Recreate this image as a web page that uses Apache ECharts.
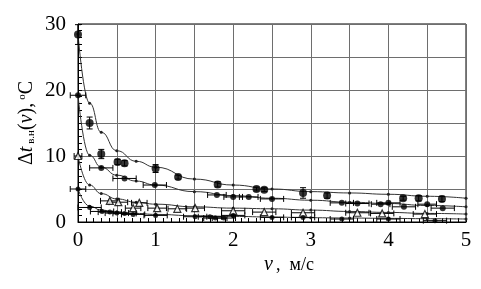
<!DOCTYPE html>
<html>
<head>
<meta charset="utf-8">
<script src="https://cdn.jsdelivr.net/npm/echarts@6/dist/echarts.min.js"></script>
<style>
html, body { margin: 0; padding: 0; background: #fff; }
#chart { width: 481px; height: 289px; }
</style>
</head>
<body>
<div id="chart"></div>
<script>
// fitted curves
var fitV = [0, 0.15, 0.3, 0.5, 0.75, 1, 1.5, 2, 2.5, 3, 3.5, 4, 4.5, 5];
var fit1 = [28.5, 18.0, 13.6, 10.8, 9.2, 8.3, 6.5, 5.6, 5.0, 4.6, 4.4, 4.2, 3.9, 3.6];
var fit2 = [19.2, 10.1, 8.3, 7.1, 6.2, 5.6, 4.6, 4.0, 3.6, 3.3, 3.0, 2.8, 2.5, 2.3];
var fit3 = [10.0, 5.6, 4.3, 3.5, 3.0, 2.7, 2.3, 2.1, 2.0, 1.8, 1.6, 1.45, 1.3, 1.2];
var fit4 = [5.0, 2.4, 1.8, 1.5, 1.3, 1.15, 0.95, 0.85, 0.75, 0.65, 0.6, 0.55, 0.5, 0.45];

// measured points (v, dt) and their error bars
var s1V  = [0, 0.15, 0.3, 0.51, 0.6, 1.0, 1.29, 1.8, 2.3, 2.4, 2.9, 3.21, 4.19, 4.39, 4.69];
var s1T  = [28.4, 15.0, 10.3, 9.1, 8.9, 8.1, 6.8, 5.7, 5.0, 4.9, 4.4, 4.0, 3.6, 3.6, 3.5];
var s1Ey = [1.5, 0.9, 0.7, 0.4, 0.4, 0.6, 0.3, 0.4, 0.3, 0.3, 0.8, 0.4, 0.3, 0.4, 0.4];

var s2V  = [0, 0.3, 0.6, 0.99, 1.79, 2.0, 2.2, 2.5, 3.4, 3.6, 3.9, 4.0, 4.2, 4.5, 4.7];
var s2T  = [19.2, 8.2, 6.6, 5.6, 4.1, 3.8, 3.8, 3.5, 2.9, 2.8, 2.7, 2.9, 2.3, 2.7, 2.1];
var s2Ex = [0.1, 0.15, 0.15, 0.15, 0.12, 0.12, 0.12, 0.15, 0.15, 0.15, 0.12, 0.15, 0.15, 0.12, 0.15];

var s3V  = [0, 0.41, 0.52, 0.71, 0.79, 1.02, 1.28, 1.51, 2.0, 2.4, 2.9, 3.6, 3.92, 4.47];
var s3T  = [10.0, 3.2, 3.0, 2.1, 2.9, 2.1, 2.0, 2.1, 1.7, 1.5, 1.4, 1.4, 1.3, 1.2];
var s3Ex = [0.05, 0.12, 0.12, 0.1, 0.1, 0.12, 0.12, 0.12, 0.15, 0.15, 0.15, 0.15, 0.15, 0.15];

var s4V  = [0, 0.15, 0.31, 0.41, 0.5, 0.6, 0.71, 1.0, 1.51, 1.7, 1.77, 1.88, 2.0, 2.5, 2.9, 3.4, 4.0, 4.6];
var s4T  = [5.0, 2.2, 1.6, 1.5, 1.35, 1.3, 1.15, 1.0, 0.8, 0.8, 0.6, 0.6, 1.0, 0.7, 0.7, 0.45, 0.45, 0.2];
var s4Ex = [0.1, 0.15, 0.15, 0.15, 0.15, 0.15, 0.15, 0.15, 0.15, 0.15, 0.15, 0.15, 0.15, 0.15, 0.15, 0.15, 0.15, 0.15];

var xTicks = [0, 1, 2, 3, 4, 5];
var yTicks = [0, 10, 20, 30];

function pairs(xs, ys) {
    return xs.map(function (x, i) { return [x, ys[i]]; });
}
function errData(xs, ys, ex, ey) {
    return xs.map(function (x, i) { return [x, ys[i], ex ? ex[i] : 0, ey ? ey[i] : 0]; });
}

// error bars drawn through the axis scales
function errRender(params, api) {
    var v = api.value(0), t = api.value(1), ex = api.value(2), ey = api.value(3);
    var kids = [];
    var cap = 3;
    var st = { stroke: '#000', lineWidth: 1 };
    if (ex > 0) {
        var a = api.coord([v - ex, t]), b = api.coord([v + ex, t]);
        kids.push({ type: 'line', shape: { x1: a[0], y1: a[1], x2: b[0], y2: b[1] }, style: st });
        kids.push({ type: 'line', shape: { x1: a[0], y1: a[1] - cap, x2: a[0], y2: a[1] + cap }, style: st });
        kids.push({ type: 'line', shape: { x1: b[0], y1: b[1] - cap, x2: b[0], y2: b[1] + cap }, style: st });
    }
    if (ey > 0) {
        var c = api.coord([v, t - ey]), d = api.coord([v, t + ey]);
        kids.push({ type: 'line', shape: { x1: c[0], y1: c[1], x2: d[0], y2: d[1] }, style: st });
        kids.push({ type: 'line', shape: { x1: c[0] - cap, y1: c[1], x2: c[0] + cap, y2: c[1] }, style: st });
        kids.push({ type: 'line', shape: { x1: d[0] - cap, y1: d[1], x2: d[0] + cap, y2: d[1] }, style: st });
    }
    return { type: 'group', children: kids };
}

function fitSeries(ys) {
    return {
        type: 'line', data: pairs(fitV, ys), smooth: true, smoothMonotone: 'x',
        symbol: 'circle', symbolSize: 3, z: 2,
        lineStyle: { color: '#333', width: 1 }, itemStyle: { color: '#222' }
    };
}
function errSeries(data) {
    return { type: 'custom', renderItem: errRender, data: data, encode: { x: 0, y: 1 }, z: 3, silent: true };
}

var FONT = 'Liberation Serif';
var chart = echarts.init(document.getElementById('chart'));
var option = {
    animation: false,
    textStyle: { fontFamily: FONT },
    grid: { left: 78, right: 15, top: 24, bottom: 67, show: true, borderColor: '#000', borderWidth: 1 },
    xAxis: {
        type: 'value', min: 0, max: 5, interval: 0.5,
        axisLine: { lineStyle: { color: '#000', width: 1 } },
        axisTick: { inside: true, length: 4, lineStyle: { color: '#000' } },
        minorTick: { show: true, splitNumber: 5, length: 4, lineStyle: { color: '#000' } },
        splitLine: { show: true, lineStyle: { color: '#6e6e6e', width: 1 } },
        axisLabel: {
            fontFamily: FONT, fontSize: 21, color: '#000', margin: 8,
            formatter: function (v) { return xTicks.indexOf(v) >= 0 ? String(v) : ''; }
        }
    },
    yAxis: {
        type: 'value', min: 0, max: 30, interval: 5,
        axisLine: { show: true, lineStyle: { color: '#000', width: 1 } },
        axisTick: { show: true, inside: true, length: 4, lineStyle: { color: '#000' } },
        minorTick: { show: true, splitNumber: 5, length: 4, lineStyle: { color: '#000' } },
        splitLine: { show: true, lineStyle: { color: '#6e6e6e', width: 1 } },
        axisLabel: {
            fontFamily: FONT, fontSize: 21, color: '#000', margin: 12,
            formatter: function (v) { return yTicks.indexOf(v) >= 0 ? String(v) : ''; }
        }
    },
    graphic: [
        {
            type: 'text', x: 289, y: 265,
            style: {
                text: '{i|v} {n|,  м/с}', fontFamily: FONT, textAlign: 'center', textVerticalAlign: 'middle',
                rich: {
                    i: { fontFamily: FONT, fontStyle: 'italic', fontSize: 20, fill: '#000' },
                    n: { fontFamily: FONT, fontSize: 18, fill: '#000' }
                }
            }
        },
        {
            type: 'text', x: 27, y: 123, rotation: Math.PI / 2,
            style: {
                text: '{n|Δ}{i|t}{s| в.н}{n|(}{i|v}{n|),} {o|o}{n|C}',
                fontFamily: FONT, textAlign: 'center', textVerticalAlign: 'middle',
                rich: {
                    n: { fontFamily: FONT, fontSize: 20, fill: '#000' },
                    i: { fontFamily: FONT, fontStyle: 'italic', fontSize: 20, fill: '#000' },
                    s: { fontFamily: FONT, fontSize: 11, fill: '#000', verticalAlign: 'bottom' },
                    o: { fontFamily: FONT, fontSize: 11, fill: '#000', verticalAlign: 'top' }
                }
            }
        }
    ],
    series: [
        fitSeries(fit1), fitSeries(fit2), fitSeries(fit3), fitSeries(fit4),
        errSeries(errData(s1V, s1T, null, s1Ey)),
        errSeries(errData(s2V, s2T, s2Ex, null)),
        errSeries(errData(s3V, s3T, s3Ex, null)),
        errSeries(errData(s4V, s4T, s4Ex, null)),
        { type: 'scatter', data: pairs(s1V, s1T), symbol: 'circle', symbolSize: 8, z: 4, itemStyle: { color: '#000' } },
        { type: 'scatter', data: pairs(s2V, s2T), symbol: 'circle', symbolSize: 6, z: 4, itemStyle: { color: '#000' } },
        { type: 'scatter', data: pairs(s3V, s3T), symbol: 'triangle', symbolSize: 7, z: 4,
          itemStyle: { color: '#fff', borderColor: '#000', borderWidth: 1.2 } },
        { type: 'scatter', data: pairs(s4V, s4T), symbol: 'circle', symbolSize: 5, z: 4, itemStyle: { color: '#000' } }
    ]
};
chart.setOption(option);
</script>
</body>
</html>
